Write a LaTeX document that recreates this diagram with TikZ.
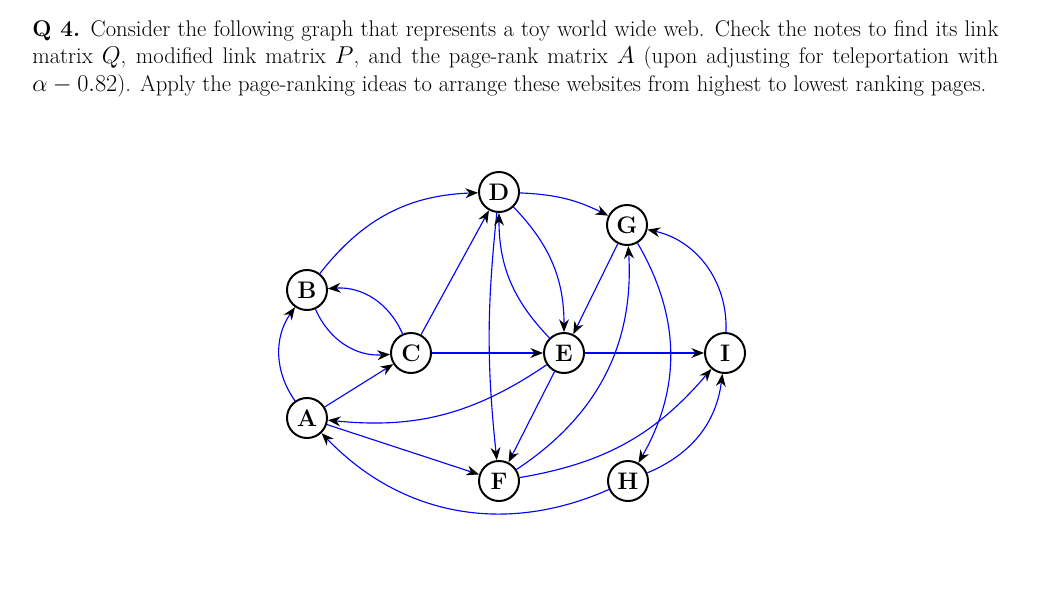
\documentclass[tikz,border=0pt]{standalone}
\usetikzlibrary{arrows.meta}
\begin{document}
\begin{tikzpicture}[x=0.025cm,y=-0.025cm,
  vtx/.style={circle,draw,line width=1.4pt,minimum size=1cm,inner sep=0pt,font=\bfseries\fontsize{17}{17}\selectfont},
  ed/.style={blue,line width=0.8pt,-{Stealth[length=9pt,width=7pt,black]}}]
\useasboundingbox (0,0) rectangle (1049,593);
\node[anchor=north west,text width=24.15cm,align=justify,inner sep=0pt,font=\fontsize{16.1}{19.6}\selectfont] (q) at (32,20)
{\textbf{Q 4.} Consider the following graph that represents a toy world wide web. Check the notes to find its link matrix $Q$, modified link matrix $P$, and the page-rank matrix $A$ (upon adjusting for teleportation with $\alpha - 0.82$). Apply the page-ranking ideas to arrange these websites from highest to lowest ranking pages.};
\node[vtx] (D) at (499,192) {D};
\node[vtx] (G) at (627,225) {G};
\node[vtx] (B) at (307,290) {B};
\node[vtx] (C) at (411,353) {C};
\node[vtx] (E) at (564,353) {E};
\node[vtx] (I) at (725,353) {I};
\node[vtx] (A) at (307,418) {A};
\node[vtx] (F) at (499,481) {F};
\node[vtx] (H) at (628,481) {H};
\draw[ed] (B) to[bend left=25] (D);
\draw[ed] (D) to[bend left=12] (G);
\draw[ed] (C) to[bend right=35] (B);
\draw[ed] (B) to[bend right=35] (C);
\draw[ed] (C) -- (D);
\draw[ed] (D) to[bend right=6] (F);
\draw[ed] (E) to[bend left=22] (D);
\draw[ed] (D) to[bend left=22] (E);
\draw[ed] (G) -- (E);
\draw[ed] (C) -- (E);
\draw[ed] (E) -- (I);
\draw[ed] (E) to[bend left=20] (A);
\draw[ed] (E) -- (F);
\draw[ed] (A) -- (C);
\draw[ed] (A) to[bend left=35] (B);
\draw[ed] (A) -- (F);
\draw[ed] (F) to[bend right=30] (G);
\draw[ed] (F) to[bend right=20] (I);
\draw[ed] (G) to[bend left=30] (H);
\draw[ed] (H) to[bend right=30] (I);
\draw[ed] (H) to[bend left=35] (A);
\draw[ed] (I) to[bend right=40] (G);
\end{tikzpicture}
\end{document}
